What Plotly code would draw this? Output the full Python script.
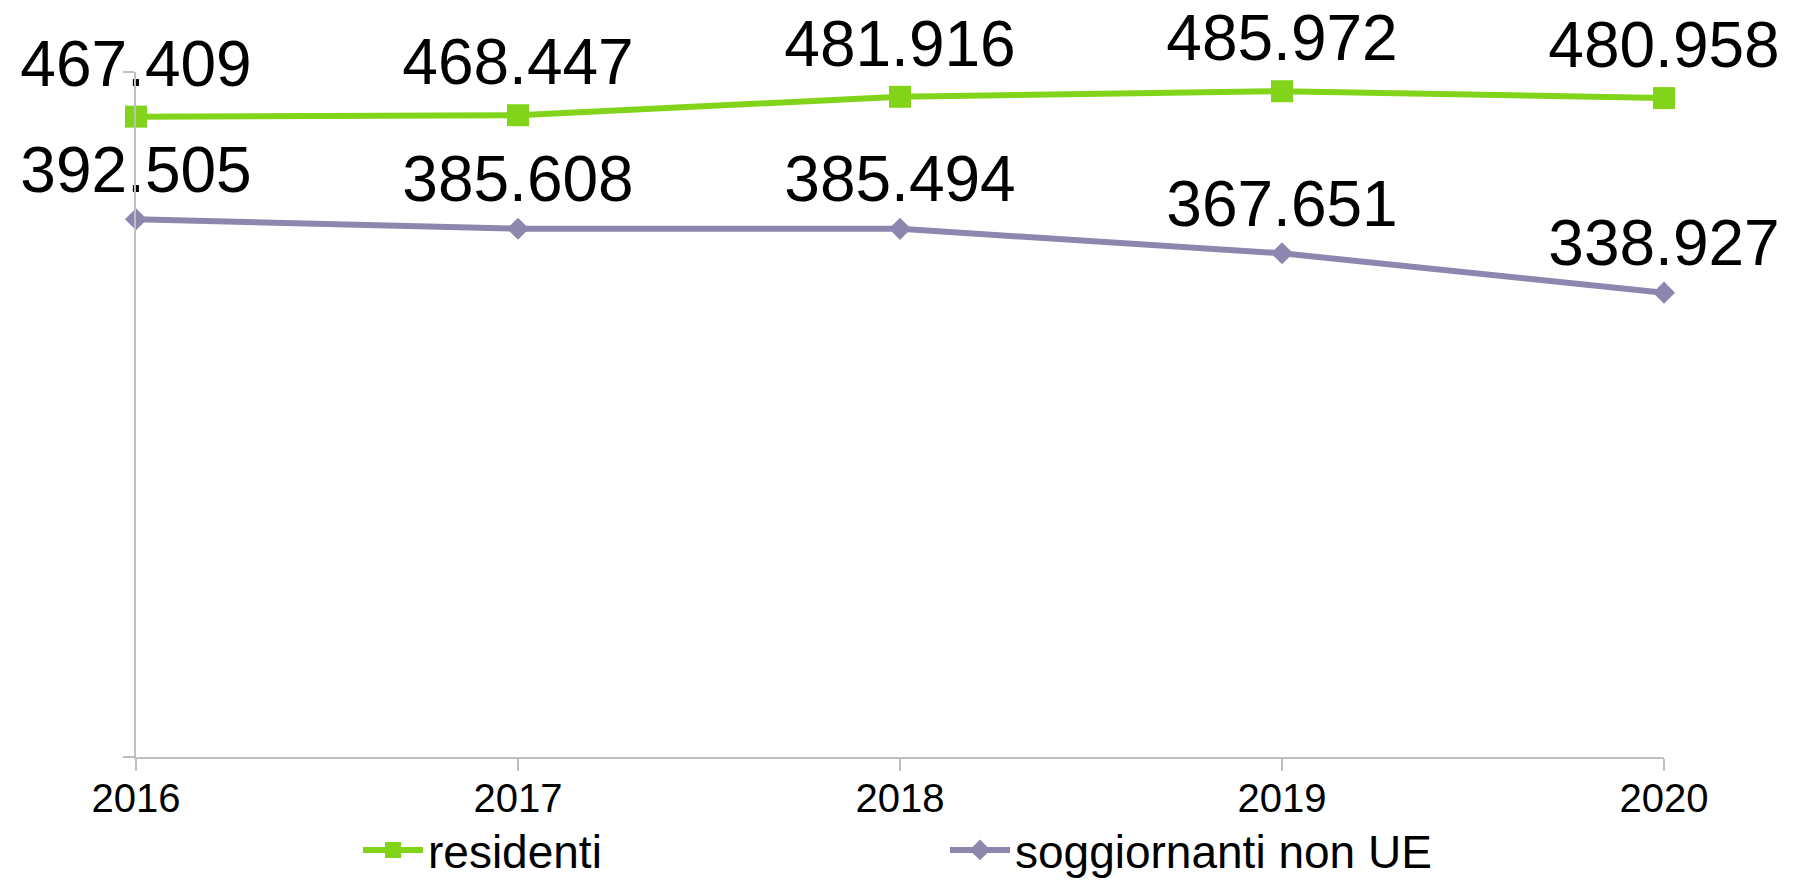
import plotly.graph_objects as go

years = ["2016", "2017", "2018", "2019", "2020"]
residenti = [467409, 468447, 481916, 485972, 480958]
soggiornanti = [392505, 385608, 385494, 367651, 338927]
series_names = ["residenti", "soggiornanti non UE"]

GREEN = "#81D41A"
PURPLE = "#8E86AE"
AXIS = "#BFBFBF"
FONT = "Liberation Sans, Arial, sans-serif"

fig = go.Figure()
fig.add_trace(go.Scatter(
    x=years, y=residenti, name=series_names[0],
    mode="lines+markers+text",
    line=dict(color=GREEN, width=6),
    marker=dict(symbol="square", size=22, color=GREEN),
    texttemplate="%{y:,}", textposition="top center",
    textfont=dict(size=64, color="black", family=FONT),
    cliponaxis=False,
))
fig.add_trace(go.Scatter(
    x=years, y=soggiornanti, name=series_names[1],
    mode="lines+markers+text",
    line=dict(color=PURPLE, width=6),
    marker=dict(symbol="diamond", size=17, color=PURPLE),
    texttemplate="%{y:,}", textposition="top center",
    textfont=dict(size=64, color="black", family=FONT),
    cliponaxis=False,
))

W, H = 1795, 882
L, R, T, B = 136, 131, 72, 125
pw = W - L - R
ph = H - T - B

fig.update_layout(
    width=W, height=H,
    margin=dict(l=L, r=R, t=T, b=B, autoexpand=False),
    paper_bgcolor="white", plot_bgcolor="white",
    separators=",.",
    font=dict(family=FONT, color="black"),
    showlegend=True,
    legend=dict(
        orientation="h",
        x=(358 - L) / pw, xanchor="left",
        y=(H - B - 850) / ph, yanchor="middle",
        font=dict(size=46, family=FONT, color="black"),
        itemwidth=60,
        entrywidth=512, entrywidthmode="pixels",
        bgcolor="rgba(0,0,0,0)",
    ),
    xaxis=dict(
        type="category", range=[0, 4],
        showgrid=False, zeroline=False,
        showline=True, linecolor=AXIS, linewidth=1.5,
        ticks="outside", ticklen=12, tickcolor=AXIS, tickwidth=1.5,
        tickfont=dict(size=40, family=FONT, color="black"),
        ticklabelstandoff=-7,
    ),
    yaxis=dict(
        range=[0, 500000],
        showgrid=False, zeroline=False,
        showline=True, linecolor=AXIS, linewidth=1.5,
        ticks="outside", ticklen=11, tickcolor=AXIS, tickwidth=1.5,
        tickvals=[0, 500000], showticklabels=False,
    ),
)

fig.write_html(
    "out.html",
    config={"displayModeBar": False},
    post_script="document.body.style.margin='0';document.body.style.overflow='hidden';",
)
